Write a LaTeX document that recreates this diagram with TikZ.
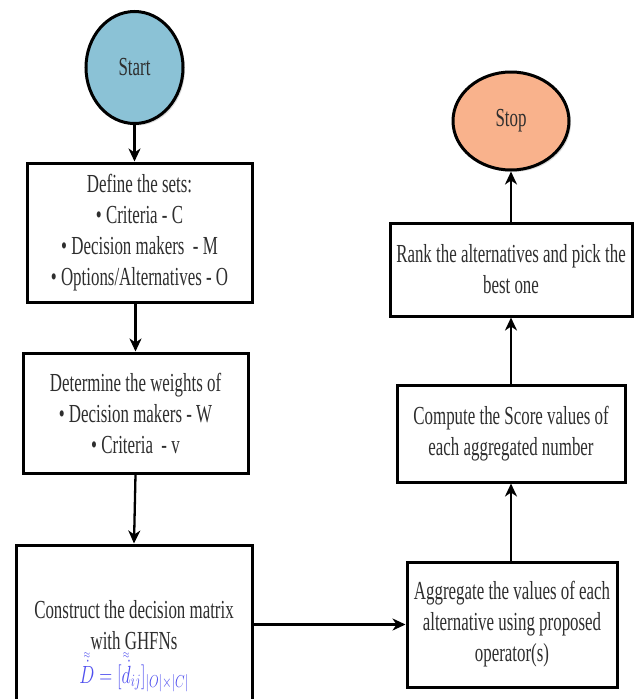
\documentclass[tikz,border=0pt]{standalone}
\usepackage{fontspec}
\usepackage{graphicx}
\usetikzlibrary{arrows.meta,shadows,shapes.geometric}
\newfontfamily\condserif[FakeStretch=0.65]{Liberation Serif}
\definecolor{startblue}{HTML}{8BC2D6}
\definecolor{stopsalmon}{HTML}{F9B28C}
\definecolor{txtgray}{HTML}{2E2E2E}
\definecolor{formblue}{HTML}{4F4FEF}
\newcommand{\dblacc}[1]{\mathord{\stackrel{\scriptscriptstyle\approx}{\dot{#1}}}}
\tikzset{
  x=1pt, y=-1pt,
  shadowed/.style={drop shadow={shadow xshift=2pt, shadow yshift=-2pt, fill=black!40, opacity=0.35}},
  procbox/.style={draw=black, line width=3pt, fill=white, shadowed, align=center,
    text=txtgray, inner sep=0pt, font=\condserif\fontsize{26}{31}\selectfont},
  terminal/.style={ellipse, draw=black, line width=3pt, shadowed, text=txtgray,
    inner sep=0pt, font=\condserif\fontsize{26}{31}\selectfont},
  flow/.style={line width=2.3pt, -{Stealth[length=13pt, width=12pt, inset=4pt]}}
}
\begin{document}
\begin{tikzpicture}
\useasboundingbox (0,0) rectangle (634,699);
\clip (0,0) rectangle (634,699);
\fill[white] (0,0) rectangle (634,699);
% left column
\node[terminal, fill=startblue, minimum width=97pt, minimum height=112pt] (start) at (134.5,67.5) {Start};
\node[procbox, minimum width=225pt, minimum height=139pt] (sets) at (139.5,232.5)
  {Define the sets:\\ \textbullet\ Criteria - C\\ \textbullet\ Decision makers\ \ - M\\ \textbullet\ Options/Alternatives - O};
\node[procbox, minimum width=225pt, minimum height=120pt] (weights) at (135.5,413)
  {Determine the weights of\\ \textbullet\ Decision makers - W\\ \textbullet\ Criteria\ \ - v};
\node[procbox, minimum width=236pt, minimum height=202pt] (matrix) at (134,646)
  {Construct the decision matrix\\ with GHFNs\\[1pt]
   {\color{formblue}\fontsize{25}{28}\selectfont\scalebox{0.72}[1]{$\dblacc{D} = [\dblacc{d}_{ij}]_{|O|\times|C|}$}}};
% right column
\node[procbox, minimum width=210pt, minimum height=125pt] (aggr) at (512,624.5)
  {Aggregate the values of each\\ alternative using proposed\\ operator(s)};
\node[procbox, minimum width=228pt, minimum height=97pt] (score) at (511,433.5)
  {Compute the Score values of\\ each aggregated number};
\node[procbox, minimum width=242pt, minimum height=93pt] (rank) at (511,269.5)
  {Rank the alternatives and pick the\\ best one};
\node[terminal, fill=stopsalmon, minimum width=116pt, minimum height=98pt] (stop) at (511,121) {Stop};
% connectors
\draw[flow] (start.south) -- (start.south |- sets.north);
\draw[flow] (sets.south -| weights.north) -- (weights.north);
\draw[flow] (weights.south) -- (matrix.north);
\draw[flow] (matrix.east |- aggr.west) -- (aggr.west);
\draw[flow] (aggr.north -| score.south) -- (score.south);
\draw[flow] (score.north) -- (rank.south);
\draw[flow] (rank.north) -- (stop.south);
\end{tikzpicture}
\end{document}
